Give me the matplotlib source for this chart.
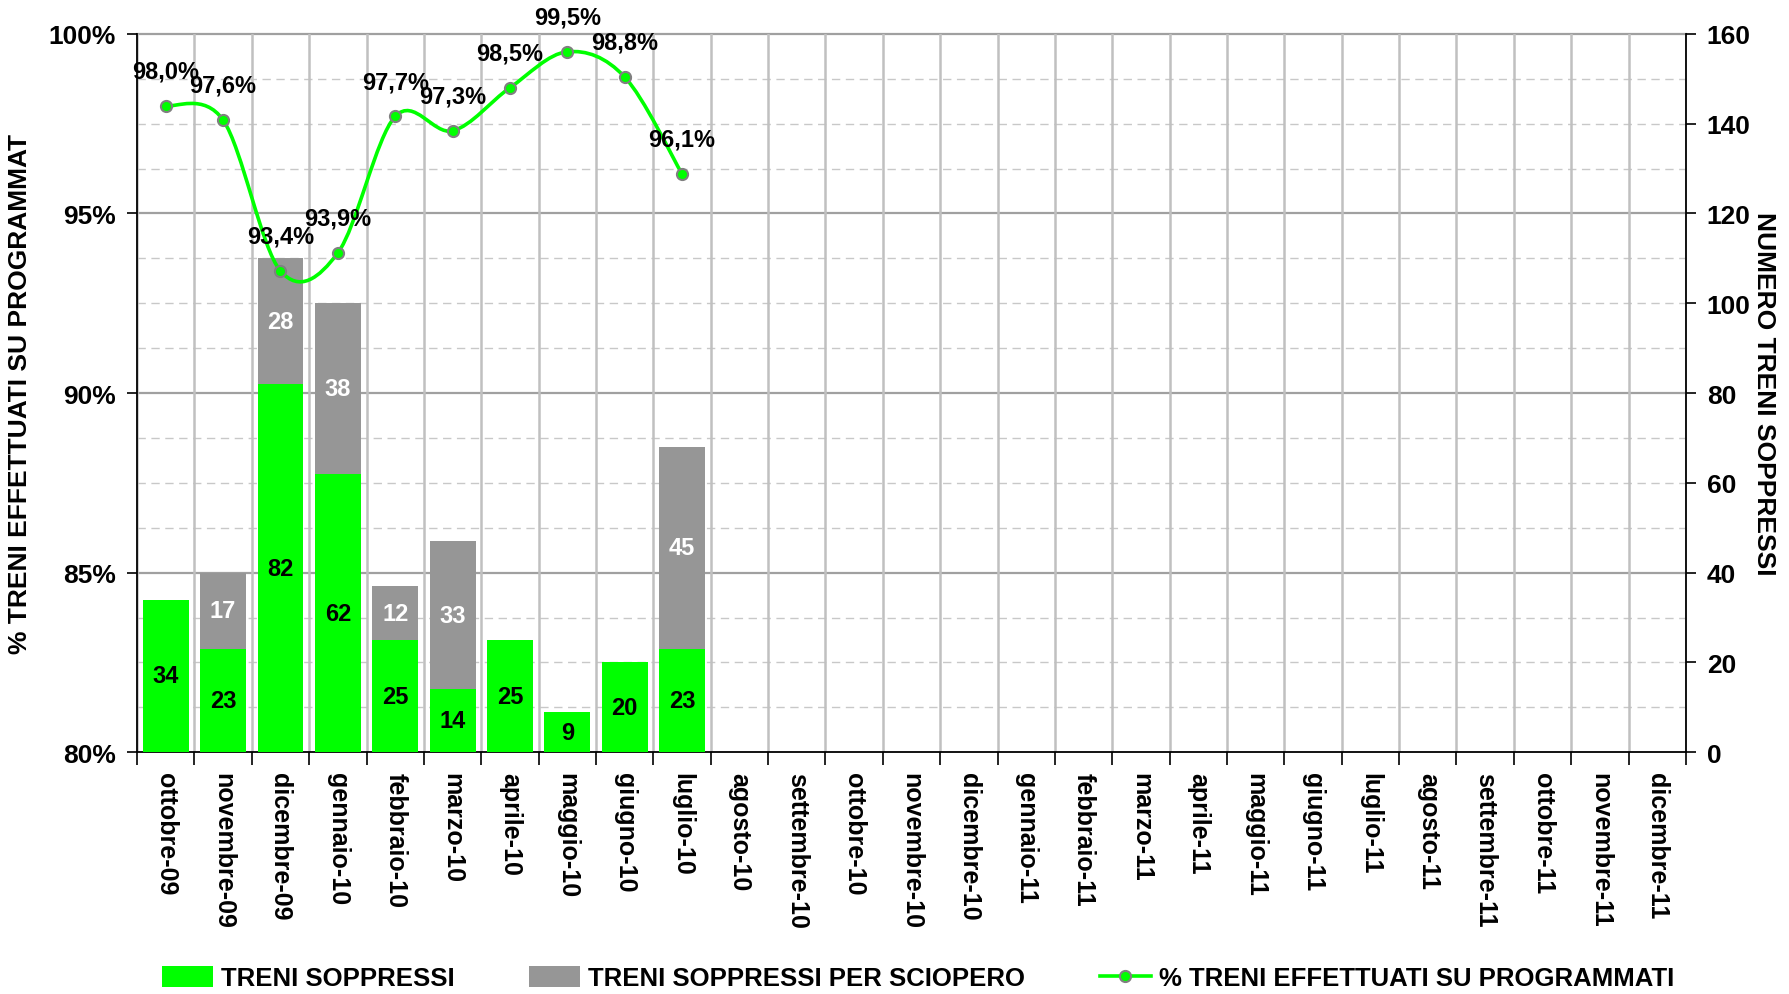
import matplotlib
matplotlib.use('Agg')
import matplotlib.pyplot as plt
from matplotlib.path import Path
from matplotlib.patches import PathPatch, Patch
from matplotlib.lines import Line2D
import numpy as np

plt.rcParams['font.family'] = ['Liberation Sans', 'DejaVu Sans']
plt.rcParams['font.weight'] = 'bold'

months = ['ottobre-09', 'novembre-09', 'dicembre-09',
          'gennaio-10', 'febbraio-10', 'marzo-10', 'aprile-10', 'maggio-10', 'giugno-10',
          'luglio-10', 'agosto-10', 'settembre-10', 'ottobre-10', 'novembre-10', 'dicembre-10',
          'gennaio-11', 'febbraio-11', 'marzo-11', 'aprile-11', 'maggio-11', 'giugno-11',
          'luglio-11', 'agosto-11', 'settembre-11', 'ottobre-11', 'novembre-11', 'dicembre-11']
soppressi = [34, 23, 82, 62, 25, 14, 25, 9, 20, 23]
sciopero = [0, 17, 28, 38, 12, 33, 0, 0, 0, 45]
perc_effettuati = [98.0, 97.6, 93.4, 93.9, 97.7, 97.3, 98.5, 99.5, 98.8, 96.1]

green = '#00ff00'
grey = '#969696'

fig = plt.figure(figsize=(17.89, 9.95), dpi=100)
ax = fig.add_axes([0.0766, 0.243, 0.8658, 0.722])

n = len(months)
x = np.arange(len(soppressi))

# bars (right axis scale)
ax.bar(x, soppressi, width=0.8, color=green, zorder=3)
ax.bar(x, sciopero, width=0.8, bottom=soppressi, color=grey, zorder=3)
for i in range(len(soppressi)):
    ax.text(x[i], soppressi[i] / 2, str(soppressi[i]), ha='center', va='center',
            fontsize=17, fontweight='bold', color='black', zorder=4)
    if sciopero[i] > 0:
        ax.text(x[i], soppressi[i] + sciopero[i] / 2, str(sciopero[i]), ha='center', va='center',
                fontsize=17, fontweight='bold', color='white', zorder=4)

ax.set_xlim(-0.5, n - 0.5)
ax.set_ylim(0, 160)

# horizontal gridlines
for v in range(10, 160, 10):
    if v % 40 == 0:
        ax.axhline(v, color='#a0a0a0', lw=1.6, zorder=1)
    else:
        ax.axhline(v, color='#c8c8c8', lw=1.0, ls=(0, (6, 4)), zorder=1)
ax.axhline(160, color='#a0a0a0', lw=1.6, zorder=1, clip_on=False)

# vertical gridlines at category boundaries
ax.set_xticks(np.arange(n))
ax.set_xticklabels(months, rotation=-90, fontsize=18, fontweight='bold')
ax.set_xticks(np.arange(-0.5, n, 1.0), minor=True)
ax.tick_params(axis='x', which='major', length=0, pad=14)
ax.tick_params(axis='x', which='minor', length=9, width=1.2, direction='out')
ax.grid(axis='x', which='minor', color='#c0c0c0', lw=1.8, zorder=1)

# percentage axis (left)
ax2 = ax.twinx()

ax.yaxis.tick_right()
ax.yaxis.set_label_position('right')
ax.set_yticks(range(0, 161, 20))
ax.tick_params(axis='y', labelsize=19, length=7, width=1.2, direction='out', pad=8)
for lab in ax.get_yticklabels():
    lab.set_fontweight('bold')
ax.set_ylabel('NUMERO TRENI SOPPRESSI', rotation=-90, fontsize=19, fontweight='bold')
ax.yaxis.set_label_coords(1.058, 0.5)
ax.spines['top'].set_visible(False)
ax.spines['left'].set_visible(False)
for s in ['bottom', 'right']:
    ax.spines[s].set_linewidth(1.3)

ax2.yaxis.tick_left()
ax2.yaxis.set_label_position('left')
ax2.set_ylim(80, 100)
ax2.set_yticks([80, 85, 90, 95, 100])
ax2.set_yticklabels(['%d%%' % v for v in [80, 85, 90, 95, 100]])
ax2.tick_params(axis='y', labelsize=19, length=7, width=1.2, direction='out', pad=8)
for lab in ax2.get_yticklabels():
    lab.set_fontweight('bold')
ax2.set_ylabel('% TRENI EFFETTUATI SU PROGRAMMAT', fontsize=19, fontweight='bold')
ax2.yaxis.set_label_coords(-0.068, 0.5)
ax2.spines['top'].set_visible(False)
ax2.spines['right'].set_visible(False)
ax2.spines['bottom'].set_visible(False)
ax2.spines['left'].set_linewidth(1.3)

# smoothed line like Excel: Catmull-Rom converted to cubic Bezier segments
px = list(x.astype(float))
py = list(perc_effettuati)
verts = [(px[0], py[0])]
codes = [Path.MOVETO]
for i in range(len(px) - 1):
    i0 = max(i - 1, 0)
    i3 = min(i + 2, len(px) - 1)
    c1 = (px[i] + (px[i + 1] - px[i0]) / 6, py[i] + (py[i + 1] - py[i0]) / 6)
    c2 = (px[i + 1] - (px[i3] - px[i]) / 6, py[i + 1] - (py[i3] - py[i]) / 6)
    verts += [c1, c2, (px[i + 1], py[i + 1])]
    codes += [Path.CURVE4, Path.CURVE4, Path.CURVE4]
ax2.add_patch(PathPatch(Path(verts, codes), facecolor='none', edgecolor=green, lw=2.6, zorder=5))
ax2.plot(x, perc_effettuati, ls='none', marker='o', ms=8, mfc=green, mec='#808080', mew=1.5, zorder=6)

for xi, v in zip(x, perc_effettuati):
    ax2.annotate(('%.1f%%' % v).replace('.', ','), (xi, v), xytext=(0, 25), textcoords='offset points',
                 ha='center', va='center', fontsize=17, fontweight='bold', zorder=7,
                 annotation_clip=False)

handles = [Patch(facecolor=green, edgecolor='none'),
           Patch(facecolor=grey, edgecolor='none'),
           Line2D([], [], color=green, lw=2.6, marker='o', ms=8, mfc=green, mec='#808080', mew=1.5)]
labels = ['TRENI SOPPRESSI', 'TRENI SOPPRESSI PER SCIOPERO', '% TRENI EFFETTUATI SU PROGRAMMATI']
fig.legend(handles, labels, loc='center', bbox_to_anchor=(0.513, 0.016), ncol=3, frameon=False,
           prop={'size': 18.5, 'weight': 'bold'}, handlelength=2.0, handletextpad=0.3,
           columnspacing=2.9, handleheight=0.9)

fig.savefig('out.png', dpi=100)
